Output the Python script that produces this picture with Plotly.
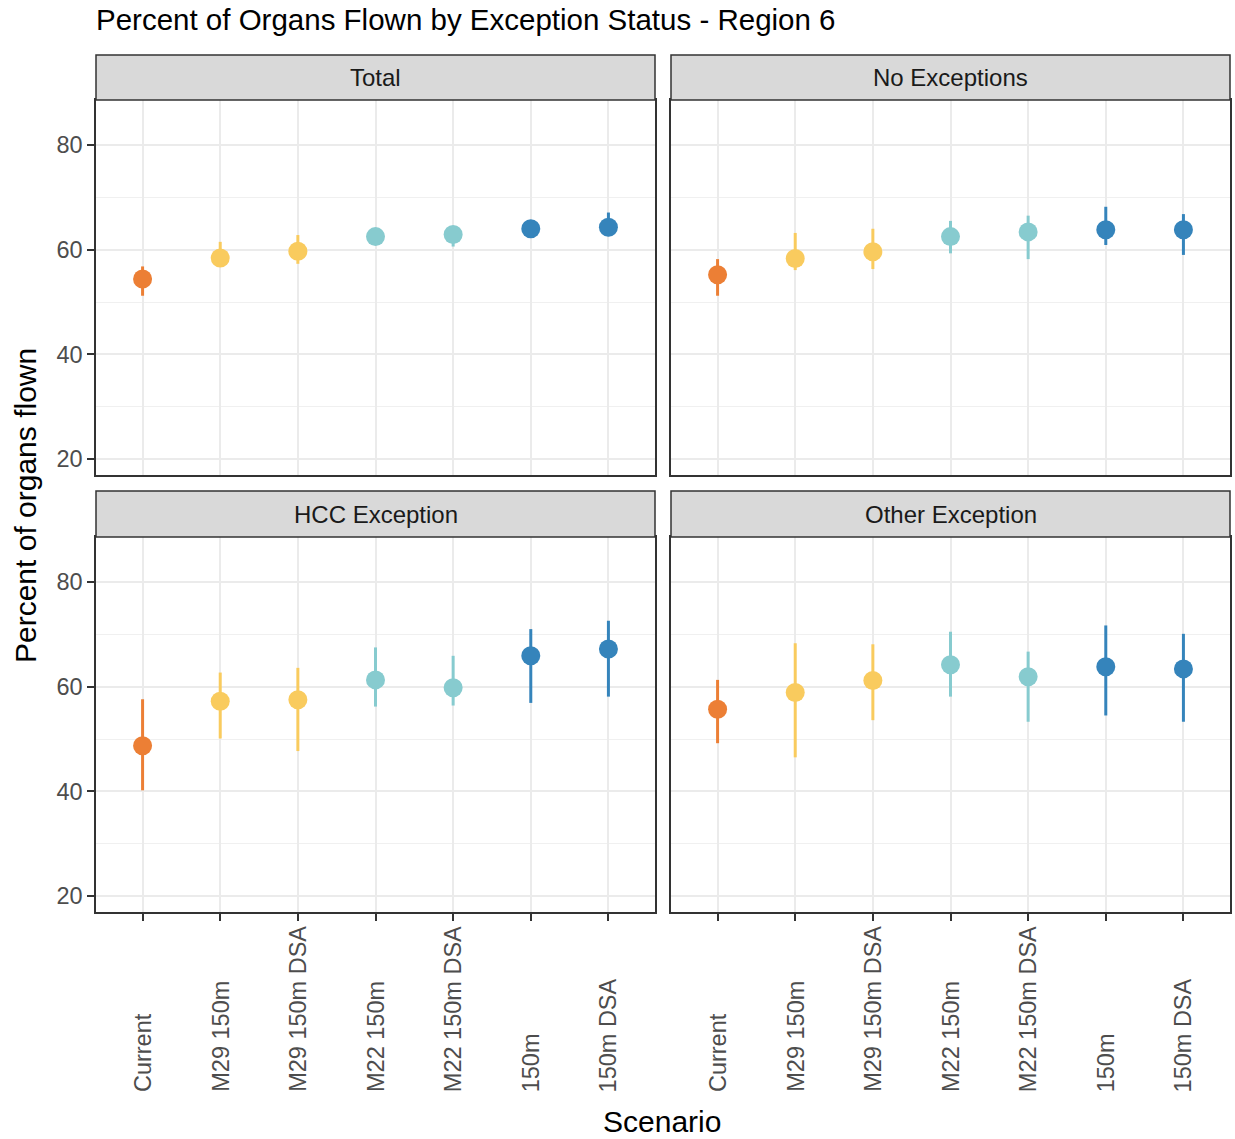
import plotly.graph_objects as go

# ---------------- data ----------------
categories = ["Current", "M29 150m", "M29 150m DSA", "M22 150m",
              "M22 150m DSA", "150m", "150m DSA"]
point_colors = ["#EC7F35", "#F9CB5E", "#F9CB5E", "#87CBCF",
                "#87CBCF", "#3584BB", "#3584BB"]

panels = ["Total", "No Exceptions", "HCC Exception", "Other Exception"]

total_est = [54.4, 58.4, 59.7, 62.5, 62.9, 64.0, 64.3]
total_lo = [51.2, 56.9, 57.3, 61.0, 60.6, 62.5, 62.6]
total_hi = [56.8, 61.5, 62.8, 64.0, 64.5, 65.5, 67.1]

noexc_est = [55.2, 58.3, 59.6, 62.5, 63.4, 63.8, 63.8]
noexc_lo = [51.2, 56.1, 56.3, 59.3, 58.2, 60.9, 59.0]
noexc_hi = [58.2, 63.2, 64.0, 65.5, 66.5, 68.2, 66.8]

hcc_est = [48.7, 57.2, 57.5, 61.3, 59.8, 65.9, 67.2]
hcc_lo = [40.2, 50.1, 47.7, 56.2, 56.4, 56.9, 58.1]
hcc_hi = [57.6, 62.7, 63.6, 67.5, 65.9, 71.0, 72.6]

other_est = [55.7, 58.9, 61.2, 64.2, 61.9, 63.8, 63.4]
other_lo = [49.2, 46.5, 53.6, 58.1, 53.3, 54.5, 53.3]
other_hi = [61.3, 68.3, 68.1, 70.5, 66.7, 71.7, 70.1]

y_tickvals = [20, 40, 60, 80]

series = [(total_est, total_lo, total_hi),
          (noexc_est, noexc_lo, noexc_hi),
          (hcc_est, hcc_lo, hcc_hi),
          (other_est, other_lo, other_hi)]

# ---------------- layout geometry ----------------
OFF = 0                      # body margin removed via post_script
W, H = 1235 - OFF, 1139 - OFF
FONT = "Liberation Sans, Arial, sans-serif"

def px_x(p):
    return (p - OFF) / W

def px_y(p):
    return 1 - (p - OFF) / H

x_domains = [[px_x(96), px_x(655)], [px_x(671), px_x(1230)]]
y_domains = [[px_y(475), px_y(100)], [px_y(912), px_y(537)]]
strip_y = [(px_y(100), px_y(55)), (px_y(537), px_y(491))]

fig = go.Figure()

for i, (est, lo, hi) in enumerate(series):
    ax = "" if i == 0 else str(i + 1)
    for j, cat in enumerate(categories):
        fig.add_trace(go.Scatter(
            x=[cat], y=[est[j]],
            xaxis="x" + ax, yaxis="y" + ax,
            mode="markers",
            marker=dict(color=point_colors[j], size=19, line=dict(width=0)),
            error_y=dict(type="data", symmetric=False,
                         array=[hi[j] - est[j]], arrayminus=[est[j] - lo[j]],
                         color=point_colors[j], thickness=3, width=0),
            showlegend=False, hoverinfo="skip",
        ))

layout = dict(
    width=W, height=H,
    margin=dict(l=0, r=0, t=0, b=0),
    paper_bgcolor="white", plot_bgcolor="white",
    font=dict(family=FONT, color="#000000"),
    showlegend=False,
)

shapes = []
annotations = []
for i, name in enumerate(panels):
    row, col = divmod(i, 2)
    ax = "" if i == 0 else str(i + 1)
    bottom = row == 1
    left = col == 0
    layout["xaxis" + ax] = dict(
        domain=x_domains[col], anchor="y" + ax,
        type="category", categoryorder="array", categoryarray=categories,
        range=[-0.6, 6.6],
        showgrid=True, gridcolor="#EBEBEB", gridwidth=2,
        showline=True, linecolor="#333333", linewidth=1.5, mirror=True,
        ticks="outside" if bottom else "", ticklen=7, tickwidth=1.5,
        tickcolor="#333333",
        showticklabels=False,
        zeroline=False, automargin=False, fixedrange=True,
    )
    layout["yaxis" + ax] = dict(
        domain=y_domains[row], anchor="x" + ax,
        range=[16.95, 88.6],
        tickmode="array", tickvals=y_tickvals,
        showgrid=True, gridcolor="#EBEBEB", gridwidth=2,
        minor=dict(tickmode="array", tickvals=[30, 50, 70], showgrid=True,
                   gridcolor="#F0F0F0", gridwidth=1.2, ticks=""),
        showline=True, linecolor="#333333", linewidth=1.5, mirror=True,
        ticks="outside" if left else "", ticklen=7, tickwidth=1.5,
        tickcolor="#333333",
        showticklabels=left,
        tickfont=dict(family=FONT, size=23.5, color="#4D4D4D"),
        zeroline=False, automargin=False, fixedrange=True,
    )
    sy0, sy1 = strip_y[row]
    shapes.append(dict(type="rect", xref="paper", yref="paper",
                       x0=x_domains[col][0], x1=x_domains[col][1],
                       y0=sy0, y1=sy1,
                       fillcolor="#D9D9D9",
                       line=dict(color="#333333", width=1.5), layer="above"))
    annotations.append(dict(text=name, xref="paper", yref="paper",
                            x=(x_domains[col][0] + x_domains[col][1]) / 2,
                            y=(sy0 + sy1) / 2, xanchor="center", yanchor="middle",
                            showarrow=False,
                            font=dict(family=FONT, size=24, color="#1A1A1A")))
    # x tick labels (rotated, aligned at their start like ggplot hjust=1)
    if bottom:
        for cat in categories:
            annotations.append(dict(text=cat, xref="x" + ax, yref="paper",
                                    x=cat, y=px_y(1094),
                                    xanchor="center", yanchor="bottom",
                                    textangle=-90, showarrow=False,
                                    font=dict(family=FONT, size=23.5,
                                              color="#4D4D4D")))

annotations.append(dict(text="Percent of Organs Flown by Exception Status - Region 6",
                        xref="paper", yref="paper", x=px_x(94), y=px_y(20),
                        xanchor="left", yanchor="middle", showarrow=False,
                        font=dict(family=FONT, size=29.5, color="#000000")))
annotations.append(dict(text="Scenario", xref="paper", yref="paper",
                        x=px_x(662), y=px_y(1121), xanchor="center", yanchor="middle",
                        showarrow=False,
                        font=dict(family=FONT, size=30, color="#000000")))
annotations.append(dict(text="Percent of organs flown", xref="paper", yref="paper",
                        x=px_x(25), y=px_y(506), xanchor="center", yanchor="middle",
                        textangle=-90, showarrow=False,
                        font=dict(family=FONT, size=30, color="#000000")))

layout["shapes"] = shapes
layout["annotations"] = annotations
fig.update_layout(**layout)

fig.write_html(
    "out.html",
    config={"displayModeBar": False},
    post_script="document.body.style.margin='0';"
                "document.body.style.overflow='hidden';",
)
